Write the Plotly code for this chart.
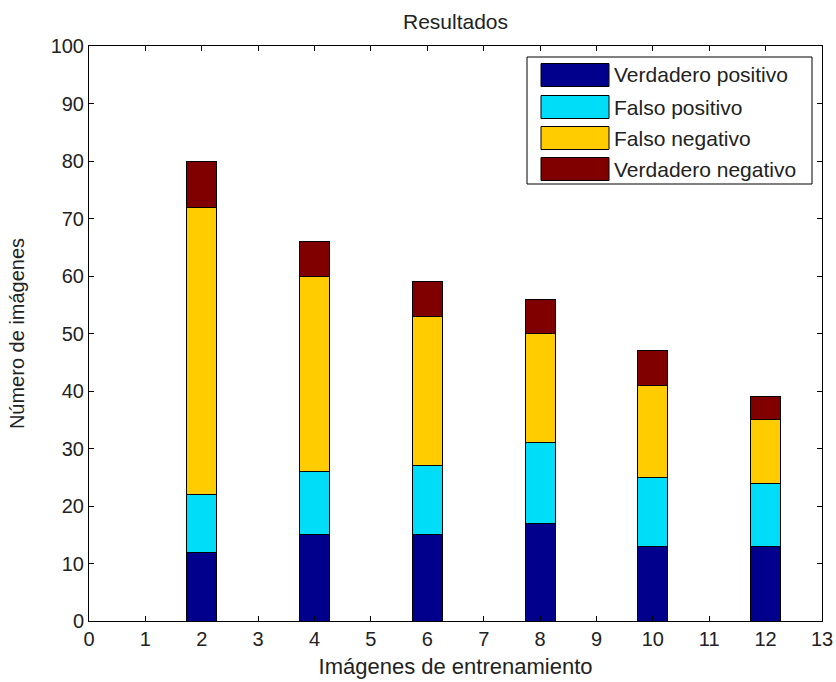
import plotly.graph_objects as go

# ---- data ----
x_vals = [2, 4, 6, 8, 10, 12]
series_names = ["Verdadero positivo", "Falso positivo", "Falso negativo", "Verdadero negativo"]
verdadero_positivo = [12, 15, 15, 17, 13, 13]
falso_positivo = [10, 11, 12, 14, 12, 11]
falso_negativo = [50, 34, 26, 19, 16, 11]
verdadero_negativo = [8, 6, 6, 6, 6, 4]
series_values = [verdadero_positivo, falso_positivo, falso_negativo, verdadero_negativo]
colors = ["#00008C", "#00DDF8", "#FFCC00", "#800000"]
x_ticks = list(range(0, 14))
y_ticks = list(range(0, 101, 10))

W, H = 836, 682
L, R, T, B = 89, 14, 46, 61
pw, ph = W - L - R, H - T - B

font = "Liberation Sans, Arial, sans-serif"

fig = go.Figure()
for name, vals, col in zip(series_names, series_values, colors):
    fig.add_trace(go.Bar(
        x=x_vals, y=vals, name=name, width=0.53,
        marker=dict(color=col, line=dict(color="black", width=1)),
        showlegend=False,
    ))

axis_common = dict(
    showline=True, linecolor="black", linewidth=1, mirror="ticks",
    ticks="inside", ticklen=5, tickcolor="black", showgrid=False, zeroline=False,
    tickfont=dict(family=font, size=20, color="#222"), automargin=False,
)

fig.update_layout(
    width=W, height=H, autosize=False,
    margin=dict(l=L, r=R, t=T, b=B, autoexpand=False),
    barmode="stack",
    paper_bgcolor="white", plot_bgcolor="white",
    font=dict(family=font, color="#222"),
    title=dict(text="Resultados", x=(L + pw / 2) / W, xanchor="center",
               y=1 - 22 / H, yanchor="middle", font=dict(family=font, size=21, color="#222")),
    xaxis=dict(range=[0, 13], tickvals=x_ticks, ticktext=[str(v) for v in x_ticks],
               title=dict(text="Imágenes de entrenamiento", standoff=9,
                          font=dict(family=font, size=22, color="#222")),
               **axis_common),
    yaxis=dict(range=[0, 100], tickvals=y_ticks, ticktext=[str(v) for v in y_ticks],
               title=dict(text="Número de imágenes", standoff=20,
                          font=dict(family=font, size=20, color="#222")),
               **axis_common),
)

# ---- legend drawn as box + swatches + text (matlab style) ----
def px2paper_x(px):
    return (px - L) / pw

def px2paper_y(py):
    return (H - B - py) / ph

shapes = [dict(type="rect", xref="paper", yref="paper",
               x0=px2paper_x(527), x1=px2paper_x(812),
               y0=px2paper_y(184), y1=px2paper_y(57),
               line=dict(color="black", width=1), fillcolor="white", layer="above")]
annotations = []
row_centers = [75, 107, 138, 169]
for name, col, cy in zip(series_names, colors, row_centers):
    shapes.append(dict(type="rect", xref="paper", yref="paper",
                       x0=px2paper_x(541), x1=px2paper_x(609),
                       y0=px2paper_y(cy + 11.5), y1=px2paper_y(cy - 11.5),
                       line=dict(color="black", width=1), fillcolor=col, layer="above"))
    annotations.append(dict(xref="paper", yref="paper", x=px2paper_x(612), y=px2paper_y(cy),
                            xanchor="left", yanchor="middle", showarrow=False, text=name,
                            font=dict(family=font, size=21, color="#222")))
fig.update_layout(shapes=shapes, annotations=annotations)

fig.write_html("out.html", config={"displayModeBar": False},
               post_script="document.body.style.margin='0';document.body.style.overflow='hidden';")
